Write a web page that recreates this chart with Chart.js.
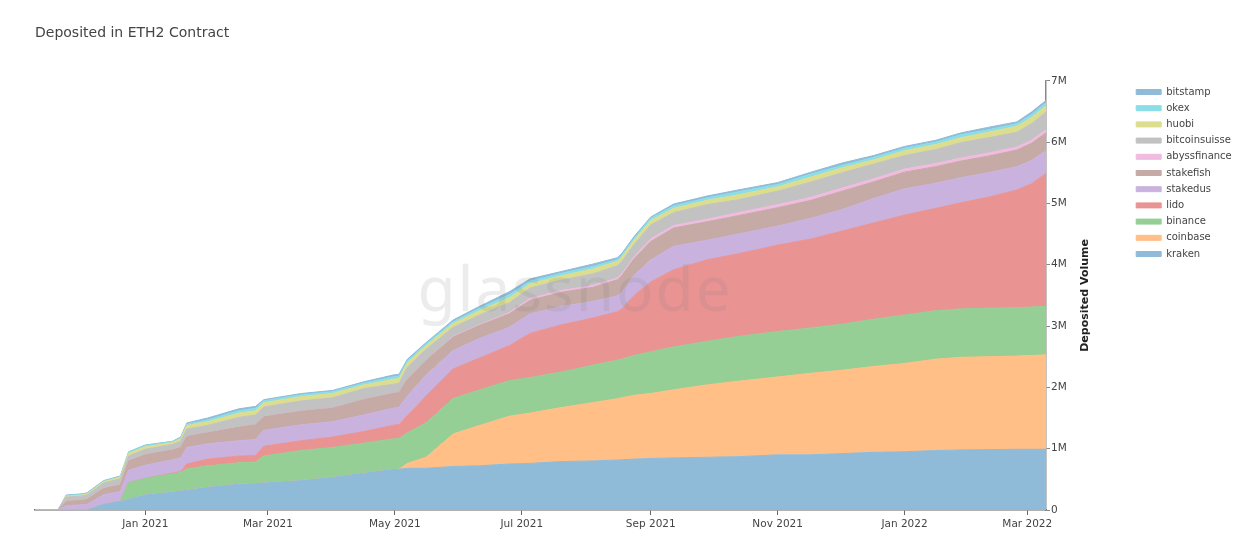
<!DOCTYPE html>
<html>
<head>
<meta charset="utf-8">
<title>Deposited in ETH2 Contract</title>
<script src="https://cdn.jsdelivr.net/npm/chart.js"></script>
<style>
  body { margin: 0; background: #fff; }
  #wrap { position: relative; width: 1234px; height: 539px; }
</style>
</head>
<body>
<div id="wrap"><canvas id="myChart"></canvas></div>
<script>
// days since 1 Jan 2021
const days = [-53,-42,-38,-30,-28,-20,-12,-8,0,13,17,20,30,45,53,57,75,90,105,119,122,126,135,148,160,175,185,200,215,227,229,235,243,254,270,285,304,320,335,350,365,380,392,405,419,426,433];

// deposited volume per entity, millions of ETH
const kraken = [0,0,0,0,0,0.09,0.14,0.175,0.245,0.29,0.31,0.32,0.37,0.42,0.43,0.44,0.48,0.53,0.60,0.66,0.665,0.68,0.68,0.71,0.72,0.75,0.76,0.79,0.80,0.815,0.82,0.83,0.84,0.85,0.86,0.87,0.90,0.90,0.92,0.94,0.95,0.97,0.98,0.985,0.99,0.99,0.99];
const coinbase = [0,0,0,0,0,0,0,0,0,0,0,0,0,0,0,0,0,0,0,0,0,0.08,0.18,0.53,0.65,0.78,0.82,0.88,0.95,1.00,1.01,1.04,1.06,1.11,1.18,1.23,1.27,1.33,1.36,1.40,1.44,1.49,1.51,1.515,1.52,1.53,1.54];
const binance = [0,0,0,0,0,0,0,0.27,0.27,0.30,0.30,0.35,0.35,0.35,0.35,0.44,0.49,0.49,0.49,0.50,0.50,0.50,0.56,0.58,0.58,0.58,0.58,0.58,0.61,0.63,0.63,0.65,0.68,0.70,0.71,0.73,0.74,0.74,0.75,0.77,0.79,0.79,0.79,0.79,0.79,0.79,0.79];
const lido = [0,0,0,0,0,0,0,0,0,0.01,0.015,0.08,0.11,0.11,0.11,0.16,0.16,0.17,0.19,0.22,0.23,0.28,0.44,0.48,0.52,0.57,0.72,0.77,0.77,0.79,0.82,0.98,1.14,1.26,1.33,1.35,1.41,1.45,1.52,1.57,1.63,1.67,1.73,1.81,1.92,2.01,2.17];
const stakedus = [0,0,0.07,0.085,0.09,0.16,0.16,0.205,0.215,0.22,0.225,0.27,0.25,0.25,0.26,0.26,0.26,0.25,0.27,0.28,0.28,0.32,0.34,0.30,0.32,0.30,0.32,0.30,0.27,0.26,0.27,0.33,0.36,0.38,0.32,0.32,0.31,0.34,0.35,0.40,0.43,0.41,0.41,0.40,0.38,0.38,0.37];
const stakefish = [0,0,0.07,0.075,0.08,0.10,0.11,0.15,0.17,0.16,0.17,0.18,0.18,0.22,0.24,0.22,0.22,0.22,0.25,0.24,0.24,0.27,0.24,0.22,0.21,0.22,0.22,0.23,0.23,0.26,0.27,0.27,0.30,0.30,0.30,0.30,0.30,0.29,0.30,0.27,0.27,0.27,0.27,0.27,0.27,0.28,0.29];
const abyssfinance = [0,0,0,0,0,0,0,0,0,0,0,0,0,0,0,0,0,0,0,0,0,0,0,0.01,0.01,0.02,0.03,0.03,0.03,0.03,0.03,0.03,0.04,0.04,0.04,0.05,0.05,0.05,0.05,0.05,0.05,0.05,0.05,0.05,0.05,0.05,0.05];
const bitcoinsuisse = [0,0,0.07,0.07,0.075,0.09,0.10,0.08,0.09,0.09,0.10,0.12,0.12,0.16,0.16,0.16,0.17,0.17,0.18,0.15,0.15,0.20,0.18,0.15,0.16,0.16,0.17,0.17,0.19,0.20,0.20,0.20,0.23,0.21,0.24,0.21,0.22,0.25,0.25,0.24,0.22,0.23,0.25,0.25,0.24,0.27,0.29];
const huobi = [0,0,0.015,0.015,0.015,0.02,0.025,0.045,0.04,0.03,0.04,0.06,0.06,0.07,0.07,0.07,0.07,0.07,0.06,0.08,0.08,0.07,0.06,0.06,0.07,0.08,0.07,0.07,0.08,0.07,0.07,0.07,0.07,0.07,0.07,0.08,0.07,0.08,0.08,0.07,0.08,0.08,0.08,0.09,0.10,0.10,0.10];
const okex = [0,0,0.01,0.01,0.01,0.01,0.01,0.015,0.02,0.015,0.015,0.02,0.03,0.04,0.04,0.03,0.03,0.03,0.03,0.04,0.04,0.03,0.03,0.03,0.04,0.05,0.04,0.04,0.04,0.03,0.03,0.03,0.04,0.04,0.04,0.05,0.04,0.05,0.04,0.04,0.04,0.04,0.05,0.04,0.04,0.05,0.05];
const bitstamp = [0,0,0.01,0.01,0.01,0.01,0.01,0.01,0.01,0.005,0.015,0.02,0.03,0.03,0.03,0.02,0.02,0.02,0.02,0.03,0.03,0.03,0.02,0.03,0.03,0.05,0.04,0.03,0.04,0.03,0.03,0.03,0.02,0.03,0.03,0.03,0.03,0.03,0.04,0.03,0.03,0.03,0.03,0.04,0.03,0.04,0.04];

// x axis ticks
const tickDays = [0,59,120,181,243,304,365,424];
const tickLabels = ['Jan 2021','Mar 2021','May 2021','Jul 2021','Sep 2021','Nov 2021','Jan 2022','Mar 2022'];

const series = [
    ['kraken', kraken, '#8fbbd9'],
    ['coinbase', coinbase, '#ffbf86'],
    ['binance', binance, '#95cf95'],
    ['lido', lido, '#ea9393'],
    ['stakedus', stakedus, '#c9b3de'],
    ['stakefish', stakefish, '#c5aaa5'],
    ['abyssfinance', abyssfinance, '#f1bbe0'],
    ['bitcoinsuisse', bitcoinsuisse, '#c2c2c2'],
    ['huobi', huobi, '#dddd90'],
    ['okex', okex, '#8bdee7'],
    ['bitstamp', bitstamp, '#8fbbd9'],
];

const datasets = series.map(function (s, i) {
    return {
        label: s[0],
        data: days.map((d, j) => ({x: d, y: s[1][j]})),
        backgroundColor: s[2],
        borderColor: s[2],
        borderWidth: 1,
        pointRadius: 0,
        tension: 0,
        fill: i === 0 ? 'origin' : '-1'
    };
});

const font = '"DejaVu Sans", Verdana, sans-serif';

// watermark + left-reading y axis title
const extras = {
    id: 'extras',
    afterDatasetsDraw(chart) {
        const ctx = chart.ctx;
        ctx.save();
        ctx.font = '400 62px "Noto Sans", sans-serif';
        ctx.letterSpacing = '2px';
        ctx.fillStyle = 'rgba(128,128,128,0.15)';
        ctx.textAlign = 'center';
        ctx.textBaseline = 'alphabetic';
        ctx.fillText('glassnode', 575, 311);
        ctx.restore();
    },
    afterDraw(chart) {
        const ctx = chart.ctx;
        const y = chart.scales.y;
        ctx.save();
        ctx.translate(1085, (y.top + y.bottom) / 2);
        ctx.rotate(-Math.PI / 2);
        ctx.font = 'bold 11px ' + font;
        ctx.fillStyle = '#222';
        ctx.textAlign = 'center';
        ctx.textBaseline = 'middle';
        ctx.fillText('Deposited Volume', 0, 0);
        ctx.restore();
    }
};

const config = {
    type: 'line',
    data: {datasets},
    options: {
        responsive: true,
        maintainAspectRatio: false,
        animation: false,
        layout: {padding: {left: 35, right: 0, top: 0, bottom: 0}},
        plugins: {
            title: {
                display: true,
                text: 'Deposited in ETH2 Contract',
                align: 'start',
                color: '#444',
                font: {family: font, size: 14, weight: 'normal'},
                padding: {top: 25, bottom: 39}
            },
            legend: {
                position: 'right',
                align: 'start',
                fullSize: false,
                reverse: true,
                maxWidth: 104,
                labels: {
                    boxWidth: 25,
                    boxHeight: 5,
                    padding: 6.2,
                    color: '#444',
                    font: {family: font, size: 10}
                }
            },
            tooltip: {enabled: false}
        },
        scales: {
            x: {
                type: 'linear',
                min: -53,
                max: 433,
                grid: {display: true, drawOnChartArea: false, drawTicks: true, tickLength: 5, color: '#666'},
                border: {display: true, color: '#666', width: 1.5},
                afterBuildTicks: function (scale) {
                    scale.ticks = tickDays.map(v => ({value: v}));
                },
                afterFit: function (scale) { scale.height = 29; },
                ticks: {
                    autoSkip: false,
                    maxRotation: 0,
                    padding: 3,
                    color: '#444',
                    font: {family: font, size: 10.5},
                    callback: function (v) { return tickLabels[tickDays.indexOf(v)]; }
                }
            },
            y: {
                position: 'right',
                stacked: true,
                min: 0,
                max: 7,
                grid: {display: true, drawOnChartArea: false, drawTicks: true, tickLength: 4, color: '#888'},
                border: {display: true, color: '#888', width: 1.5},
                afterFit: function (scale) { scale.width = 84; },
                ticks: {
                    stepSize: 1,
                    padding: 1,
                    color: '#444',
                    font: {family: font, size: 10.5},
                    callback: function (v) { return v === 0 ? '0' : v + 'M'; }
                }
            }
        }
    },
    plugins: [extras]
};

var myChart = new Chart(
document.getElementById('myChart'),
config
);
</script>
</body>
</html>
